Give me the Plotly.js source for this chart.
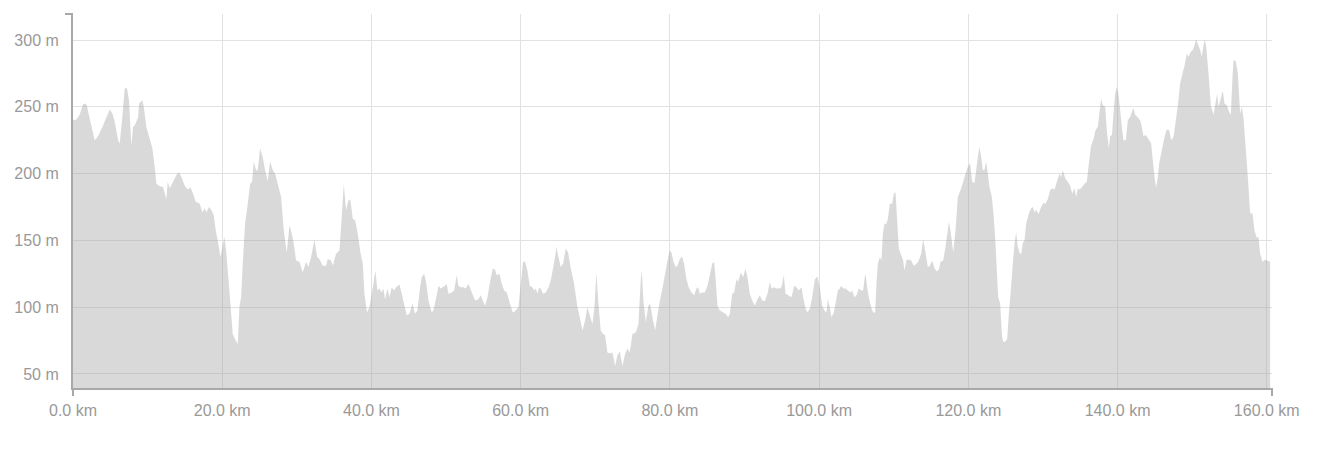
<!DOCTYPE html>
<html>
<head>
<meta charset="utf-8">
<script src="https://cdn.plot.ly/plotly-3.0.1.min.js"></script>
<style>html,body{margin:0;padding:0;background:#fff;}#chart{width:1318px;height:452px;}</style>
</head>
<body>
<div id="chart"></div>
<script>
// Distance along the route (km)
const distanceKm = [
  0, 0.45, 0.90, 1.34, 1.70, 1.88, 2.24, 2.91, 3.36, 4.03, 4.47, 4.92, 5.28, 5.59, 6.04, 6.26, 6.62, 6.93, 7.24, 7.51, 7.82, 8.05, 8.27, 8.72, 8.85, 9.30, 9.48, 9.83, 10.28, 10.64, 10.95, 11.18, 11.62, 12.07, 12.51, 12.69, 12.96, 13.41, 13.86, 14.21, 14.53, 14.97, 15.42, 15.73, 16.09, 16.45, 16.98, 17.34, 17.65, 17.88, 18.23, 18.55, 18.86, 19.13,
  19.40, 19.76, 20.29, 20.52, 20.96, 21.41, 21.72, 22.08, 22.30, 22.53, 22.75, 23.06, 23.42, 23.73, 24.00, 24.23, 24.54, 24.76, 25.07, 25.43, 25.74, 26.10, 26.42, 26.77, 27.09, 27.44, 27.89, 28.25, 28.65, 29.01, 29.23, 29.59, 29.90, 30.35, 30.79, 31.24, 31.55, 31.91, 32.36, 32.72, 33.03, 33.48, 33.92, 34.15, 34.59, 34.82, 35.26, 35.71, 36.02, 36.29, 36.60, 36.92, 37.18, 37.50, 37.81, 38.17, 38.52, 38.84, 39.06, 39.40,
  39.73, 40.04, 40.26, 40.53, 40.80, 41.07, 41.38, 41.60, 41.83, 42.14, 42.41, 42.72, 43.03, 43.30, 43.75, 44.06, 44.37, 44.73, 45.09, 45.49, 45.85, 46.16, 46.52, 46.74, 47.06, 47.32, 47.64, 48.08, 48.31, 48.75, 48.98, 49.29, 49.56, 49.87, 50.09, 50.32, 50.76, 51.08, 51.43, 51.66, 51.97, 52.33, 52.64, 53.00, 53.45, 53.89, 54.34, 54.65, 54.92, 55.23, 55.55, 55.90, 56.26, 56.57, 56.80, 57.15, 57.47, 57.78, 58.14, 58.49, 58.94, 59.25,
  59.70, 60.01, 60.32, 60.59, 60.90, 61.22, 61.57, 61.80, 62.02, 62.24, 62.47, 62.69, 63.00, 63.36, 63.72, 64.03, 64.34, 64.61, 64.79, 65.06, 65.37, 65.69, 66.04, 66.36, 66.71, 67.16, 67.61, 67.92, 68.28, 68.63, 68.95, 69.26, 69.62, 69.89, 70.15, 70.42, 70.73, 71.05, 71.31, 71.63, 71.94, 72.30, 72.66, 72.97, 73.28, 73.64, 74.00, 74.31, 74.62, 74.98, 75.43, 75.78, 76.10, 76.23, 76.45, 76.77, 77.12, 77.35, 77.66, 78.02, 78.33, 78.64, 79.00, 79.36,
  79.68, 79.99, 80.21, 80.44, 80.75, 81.02, 81.33, 81.64, 81.91, 82.22, 82.54, 82.89, 83.25, 83.56, 83.79, 84.01, 84.32, 84.68, 85.04, 85.35, 85.67, 85.93, 86.11, 86.38, 86.69, 87.14, 87.45, 87.81, 88.03, 88.35, 88.61, 88.93, 89.15, 89.51, 89.82, 90.13, 90.40, 90.71, 91.03, 91.38, 91.74, 92.05, 92.37, 92.72, 93.08, 93.39, 93.62, 93.98, 94.29, 94.60, 94.96, 95.27, 95.50, 95.85, 96.30, 96.66, 96.97, 97.28, 97.64, 97.86, 98.18, 98.44, 98.76, 99.07, 99.43, 99.78,
  100.09, 100.41, 100.72, 100.99, 101.17, 101.43, 101.66, 101.97, 102.19, 102.51, 102.78, 102.95, 103.22, 103.53, 103.85, 104.21, 104.43, 104.74, 105.01, 105.32, 105.63, 105.90, 106.08, 106.22, 106.44, 106.66, 106.98, 107.24, 107.51, 107.69, 107.87, 108.14, 108.36, 108.54, 108.76, 109.03, 109.21, 109.48, 109.79, 110.01, 110.24, 110.46, 110.68, 111.00, 111.26, 111.44, 111.71, 112.02, 112.34, 112.69, 113.05, 113.36, 113.68, 113.95, 114.26, 114.57, 114.84, 115.15, 115.47, 115.73, 116.05, 116.27, 116.63, 116.94, 117.16, 117.39, 117.61, 117.97, 118.28, 118.59, 118.95, 119.31,
  119.62, 119.93, 120.24, 120.51, 120.82, 121.05, 121.27, 121.49, 121.72, 121.94, 122.16, 122.39, 122.61, 122.83, 123.15, 123.37, 123.59, 123.82, 124.00, 124.26, 124.53, 124.71, 124.98, 125.20, 125.43, 125.69, 125.96, 126.19, 126.41, 126.63, 126.86, 127.08, 127.30, 127.53, 127.75, 128.11, 128.42, 128.64, 128.87, 129.09, 129.40, 129.76, 130.07, 130.34, 130.65, 130.97, 131.23, 131.55, 131.86, 132.22, 132.44, 132.66, 133.02, 133.33, 133.65, 133.92, 134.23, 134.45, 134.68, 134.90, 135.26, 135.57, 135.88, 136.15, 136.46, 136.78, 137.04, 137.36, 137.58, 137.80, 138.03, 138.34, 138.56, 138.83, 139.01, 139.25,
  139.45, 139.68, 139.90, 140.12, 140.35, 140.57, 140.79, 141.11, 141.37, 141.69, 142.00, 142.13, 142.36, 142.72, 143.03, 143.25, 143.47, 143.79, 144.15, 144.50, 144.68, 144.95, 145.17, 145.40, 145.58, 145.93, 146.29, 146.60, 146.92, 147.18, 147.50, 147.81, 148.08, 148.39, 148.70, 148.97, 149.28, 149.51, 149.78, 150.09, 150.31, 150.49, 150.62, 150.85, 151.07, 151.29, 151.52, 151.70, 151.88, 152.19, 152.50, 152.86, 153.17, 153.35, 153.53, 153.89, 154.11, 154.33, 154.65, 154.96, 155.18, 155.41, 155.54, 155.85, 156.12, 156.43, 156.66, 156.88, 157.10, 157.33, 157.55, 157.77, 158.09, 158.35, 158.67, 158.89, 159.11, 159.43, 159.78, 160.05, 160.45
];

// Elevation (m)
const elevationM = [
  240, 240.5, 244, 252, 252.5, 250.5, 241, 225, 228, 236, 242, 248, 245, 239, 225, 222.5, 243, 264, 264, 255, 221, 235, 236, 242, 252.5, 255, 250, 235, 226, 219, 205, 192.5, 190.5, 190, 181, 194, 189, 194, 199, 201, 197.5, 191, 188, 190, 185, 179, 177.5, 171, 174, 171, 175, 172.5, 169, 157.5,
  150, 137.5, 152.5, 142.5, 112.5, 80, 76, 72.5, 100, 107.5, 132.5, 162.5, 177.5, 192, 194, 209, 202.5, 202.5, 219, 212.5, 202.5, 194.5, 209, 202.5, 200, 192.5, 182.5, 157.5, 141, 161, 157.5, 147.5, 135, 134, 126, 134, 130, 137.5, 150.5, 137.5, 136, 131, 131, 136, 135, 131, 140, 142.5, 167.5, 192, 172.5, 180, 180, 166, 165, 155, 141, 132.5, 110, 96,
  100, 110, 117.5, 127.5, 112.5, 114, 111, 114, 106, 114, 107.5, 115, 112.5, 115, 117, 110, 102.5, 94, 95, 102.5, 95, 97.5, 115, 122.5, 125, 119, 105, 96, 97.5, 109, 116, 114, 115, 116, 117.5, 110, 111, 112.5, 124, 116, 115, 115, 114, 117.5, 111, 105, 106, 109, 105, 101, 107.5, 119, 129, 128, 124, 125, 117.5, 112.5, 111, 104, 96, 97,
  100, 117.5, 134, 134, 127.5, 116, 115, 112.5, 114, 110.5, 114.5, 114, 110, 111, 114.5, 120, 129, 137.5, 145, 137.5, 130, 132.5, 144, 141, 129.5, 117.5, 100, 92.5, 82.5, 90, 100, 94, 87.5, 100, 126, 102.5, 82.5, 80, 79, 66, 65.5, 66, 56, 64, 67, 56, 65, 69, 66, 80, 81, 87.5, 121, 127.5, 105, 89, 101, 102.5, 92.5, 82.5, 94, 104, 114, 125,
  135, 142.5, 141, 135, 130, 131, 136, 138, 132.5, 121, 114.5, 111, 109, 114, 115, 110, 111, 111, 116, 124, 132.5, 134, 122.5, 101, 97.5, 96, 95, 92.5, 95, 110, 111, 121, 119, 126, 122.5, 129, 122.5, 110, 105, 101, 106, 109, 105, 104.5, 110, 119, 114, 115, 114, 114, 115, 124, 110, 109, 107.5, 116, 115, 112.5, 115, 107.5, 99, 96, 99, 107.5, 121, 123,
  115, 101, 97.5, 96, 106, 100, 92.5, 96, 102.5, 112.5, 114, 116, 114, 114, 112.5, 111, 112.5, 107.5, 109, 114, 112.5, 112.5, 121, 125, 115, 107.5, 100, 96, 96, 117.5, 132.5, 137.5, 135, 155, 162.5, 162.5, 166, 177.5, 177.5, 185, 186, 165, 144, 139, 135, 127.5, 135.5, 135.5, 135, 131, 132.5, 135, 140, 151, 141, 130, 131, 135, 129, 127, 128, 134, 135, 145, 154, 164, 157.5, 141, 157.5, 182.5, 187.5, 194,
  200, 205, 208, 194, 193, 202.5, 212.5, 220, 212.5, 202.5, 202.5, 209, 200, 190, 182.5, 170, 152.5, 127.5, 107.5, 103, 77.5, 74, 74.5, 76, 95, 112.5, 132.5, 147.5, 156, 145, 141, 139.5, 148, 150, 162.5, 170, 174, 175, 171, 173, 169.5, 175, 178, 177.5, 181, 187.5, 189, 188, 194, 200, 197.5, 202.5, 196, 194, 191, 185, 189, 182.5, 189, 188, 190, 192.5, 194, 207.5, 221, 226, 232.5, 235, 246, 256, 251, 250.5, 232.5, 219, 228, 229,
  245, 260, 265, 259, 247.5, 235, 225, 225, 240, 242.5, 247.5, 249, 244, 242, 240, 235, 228, 229, 226, 222.5, 212.5, 197.5, 189.5, 197.5, 207.5, 217.5, 227.5, 233, 232.5, 225, 227.5, 240, 251, 267.5, 275, 280.5, 290, 287.5, 291, 292.5, 296, 300.5, 299, 296, 292.5, 287.5, 296, 300.5, 295, 275, 251, 244, 254, 260, 250, 257.5, 262, 252.5, 251, 246, 244, 272.5, 285, 284, 275, 245, 250, 241, 225, 207.5, 190, 170.5, 170, 157.5, 152, 152.5, 140, 134, 135.5, 135, 134
];

// Tick positions and labels
const xTickVals = [0, 20, 40, 60, 80, 100, 120, 140, 160];
const xTickText = ['0.0 km', '20.0 km', '40.0 km', '60.0 km', '80.0 km', '100.0 km', '120.0 km', '140.0 km', '160.0 km'];
const yTickVals = [50, 100, 150, 200, 250, 300];
const yTickText = ['50 m', '100 m', '150 m', '200 m', '250 m', '300 m'];

const trace = {
  type: 'scatter',
  x: distanceKm,
  y: elevationM,
  mode: 'none',
  fill: 'tozeroy',
  fillcolor: 'rgba(160,160,160,0.4)',
  hoverinfo: 'x+y'
};

const axisFont = {family: '"Liberation Sans", Arial, sans-serif', size: 16, color: '#999999'};

const layout = {
  width: 1318,
  height: 452,
  margin: {l: 73, r: 46, t: 14, b: 64},
  paper_bgcolor: '#ffffff',
  plot_bgcolor: '#ffffff',
  showlegend: false,
  xaxis: {
    range: [0, 160.7],
    tickmode: 'array',
    tickvals: xTickVals,
    ticktext: xTickText,
    showgrid: true,
    gridcolor: '#e2e2e2',
    gridwidth: 1,
    zeroline: false,
    showline: true,
    linecolor: '#a8a8a8',
    linewidth: 2,
    ticks: '',
    ticklabelstandoff: 7,
    tickfont: axisFont
  },
  yaxis: {
    range: [39.5, 319.5],
    tickmode: 'array',
    tickvals: yTickVals,
    ticktext: yTickText,
    showgrid: true,
    gridcolor: '#e2e2e2',
    gridwidth: 1,
    zeroline: false,
    showline: true,
    linecolor: '#a8a8a8',
    linewidth: 2,
    ticks: '',
    ticklabelstandoff: 9,
    tickfont: axisFont
  },
  shapes: [
    {type: 'line', xref: 'paper', yref: 'paper', xsizemode: 'pixel', xanchor: 0, x0: -8, x1: 0, y0: 1, y1: 1, line: {color: '#a8a8a8', width: 2}},
    {type: 'line', xref: 'paper', yref: 'paper', ysizemode: 'pixel', yanchor: 0, y0: -8, y1: 0, x0: 0, x1: 0, line: {color: '#a8a8a8', width: 2}},
    {type: 'line', xref: 'paper', yref: 'paper', ysizemode: 'pixel', yanchor: 0, y0: -8, y1: 0, x0: 1, x1: 1, line: {color: '#a8a8a8', width: 2}}
  ]
};

Plotly.newPlot('chart', [trace], layout, {displayModeBar: false});
</script>
</body>
</html>
